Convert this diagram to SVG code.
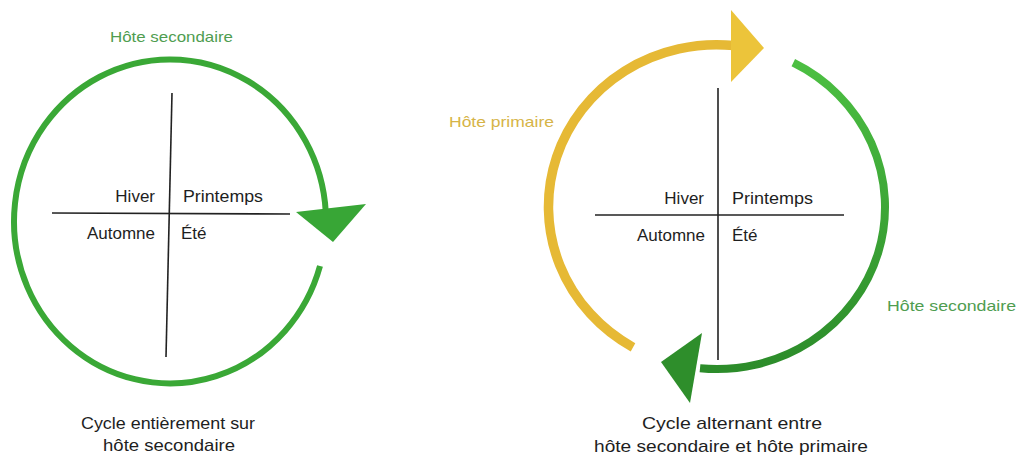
<svg xmlns="http://www.w3.org/2000/svg" width="1020" height="458" viewBox="0 0 1020 458">
  <defs>
    <linearGradient id="gGreen" x1="0" y1="0" x2="0" y2="1">
      <stop offset="0" stop-color="#4cbf42"/>
      <stop offset="1" stop-color="#2c8c2a"/>
    </linearGradient>
    <style>
      text { font-family: "Liberation Sans", Arial, sans-serif; }
      .season { font-size: 17px; fill: #1e1e1e; }
      .caption { font-size: 17px; fill: #1e1e1e; }
      .lblG { font-size: 15px; fill: #4f9d50; }
      .lblY { font-size: 15px; fill: #d6b447; }
      .axis { stroke: #222; stroke-width: 1.6; fill: none; }
      .arcL { fill: none; stroke: #3aa836; stroke-width: 6; }
      .arcY { fill: none; stroke: #e6b935; stroke-width: 9.5; }
      .arcG { fill: none; stroke: url(#gGreen); stroke-width: 8; }
    </style>
  </defs>
  <rect width="1020" height="458" fill="#ffffff"/>

  <!-- Left diagram: seasons cross -->
  <g id="left-seasons">
    <line class="axis" x1="172" y1="93" x2="166" y2="357"/>
    <line class="axis" x1="52" y1="213" x2="290" y2="214"/>
    <text class="season" x="155" y="202" text-anchor="end">Hiver</text>
    <text class="season" x="183" y="202" textLength="80" lengthAdjust="spacingAndGlyphs">Printemps</text>
    <text class="season" x="155" y="239" text-anchor="end">Automne</text>
    <text class="season" x="181" y="239">Été</text>
  </g>
  <g id="left-label">
    <text class="lblG" x="110" y="42" textLength="123" lengthAdjust="spacingAndGlyphs">Hôte secondaire</text>
  </g>
  <g id="left-caption">
    <text class="caption" x="81" y="429" textLength="174" lengthAdjust="spacingAndGlyphs">Cycle entièrement sur</text>
    <text class="caption" x="103" y="451" textLength="132" lengthAdjust="spacingAndGlyphs">hôte secondaire</text>
  </g>

  <!-- Right diagram: seasons cross -->
  <g id="right-seasons">
    <line class="axis" x1="718" y1="88" x2="718" y2="360"/>
    <line class="axis" x1="595" y1="215" x2="844" y2="215"/>
    <text class="season" x="704" y="204" text-anchor="end">Hiver</text>
    <text class="season" x="732" y="204" textLength="81" lengthAdjust="spacingAndGlyphs">Printemps</text>
    <text class="season" x="705" y="241" text-anchor="end">Automne</text>
    <text class="season" x="732" y="241">Été</text>
  </g>
  <g id="right-label-primary">
    <text class="lblY" x="449" y="127" textLength="105" lengthAdjust="spacingAndGlyphs">Hôte primaire</text>
  </g>
  <g id="right-label-secondary">
    <text class="lblG" x="887" y="311" textLength="129" lengthAdjust="spacingAndGlyphs">Hôte secondaire</text>
  </g>
  <g id="right-caption">
    <text class="caption" x="642" y="429" textLength="180" lengthAdjust="spacingAndGlyphs">Cycle alternant entre</text>
    <text class="caption" x="594" y="452" textLength="274" lengthAdjust="spacingAndGlyphs">hôte secondaire et hôte primaire</text>
  </g>

  <!-- Connectors: cycle arrows -->
  <g id="connectors">
    <path class="arcL" d="M 320 266 A 156 162 0 1 1 325.8 212.5"/>
    <polygon points="296,212 366,204 333,242" fill="#38a636"/>

    <path class="arcY" d="M 633 347.3 A 168 162 0 0 1 734 45.6"/>
    <polygon points="731,10 731,82 764,48" fill="#ecc43a"/>

    <path class="arcG" d="M 793.3 62.7 A 168 162 0 0 1 700 368.2"/>
    <polygon points="661,362 702,333 690,403" fill="#2e8e2b"/>
  </g>
</svg>
